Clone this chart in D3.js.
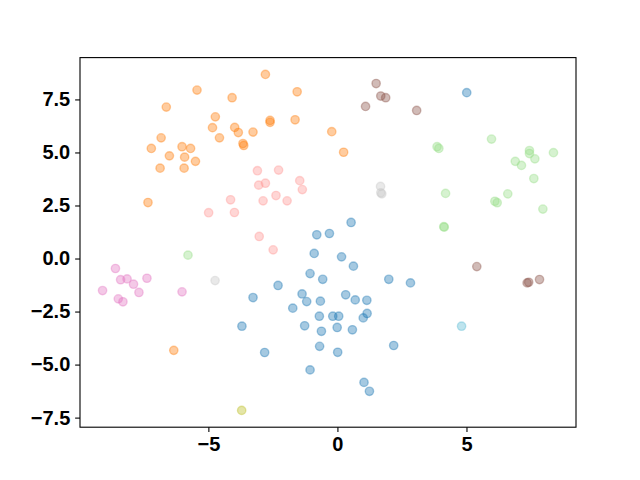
<!DOCTYPE html>
<html>
<head>
<meta charset="utf-8">
<script src="https://cdn.jsdelivr.net/npm/d3@7"></script>
<style>
  body { margin: 0; background: #fff; }
  .tick text { font-family: "Liberation Sans", Arial, sans-serif; font-weight: bold; font-size: 20px; fill: #000; }
</style>
</head>
<body>
<div id="chart"></div>
<script>
var width = 640,
    height = 480;

var margin = {left: 80, top: 57.6, right: 64, bottom: 52.8};

// cluster names / colours
var groups = ["blue", "orange", "green", "pink", "brown", "magenta", "gray", "olive", "cyan"];
var groupColors = ["#1f77b4", "#ff7f0e", "#98df8a", "#ff9896", "#8c564b", "#e377c2", "#c7c7c7", "#bcbd22", "#5cbcd4"];

var xTicks = [-5, 0, 5];
var yTicks = [-7.5, -5.0, -2.5, 0.0, 2.5, 5.0, 7.5];

// points, [x, y]
var bluePts = [[5.01,7.82],[0.53,1.70],[-0.80,1.12],[-0.31,1.18],[-0.90,0.24],[0.16,0.08],[0.62,-0.36],
  [-1.06,-0.71],[-0.57,-0.98],[1.99,-0.98],[2.83,-1.15],[-2.30,-1.27],[-3.27,-1.84],[-1.37,-1.67],
  [-1.19,-2.03],[-0.66,-2.01],[0.32,-1.71],[0.69,-1.95],[1.14,-1.97],[-1.73,-2.34],[-0.70,-2.72],
  [-0.18,-2.72],[0.05,-2.72],[1.15,-2.59],[1.00,-2.80],[-3.70,-3.19],[-1.27,-3.17],[-0.62,-3.43],
  [-0.01,-3.25],[0.58,-3.36],[2.18,-4.10],[-2.82,-4.43],[-0.69,-4.14],[0.01,-4.42],[-1.06,-5.25],
  [1.03,-5.84],[1.24,-6.26]];
var orangePts = [[-5.44,7.94],[-4.08,7.58],[-6.63,7.14],[-4.73,6.68],[-4.84,6.17],[-3.98,6.18],[-3.84,5.94],
  [-6.83,5.69],[-4.57,5.69],[-3.66,5.42],[-3.63,5.33],[-7.21,5.19],[-6.02,5.27],[-5.69,5.19],
  [-6.51,4.84],[-5.92,4.78],[-5.50,4.58],[-6.87,4.26],[-5.94,4.26],[-3.27,5.96],[-2.79,8.68],
  [-1.56,7.86],[-2.61,6.51],[-2.61,6.42],[-1.64,6.54],[-0.22,5.98],[0.24,5.01],[-7.34,2.64],[-6.34,-4.33]];
var greenPts = [[5.97,5.63],[3.86,5.27],[3.93,5.19],[7.44,5.09],[7.44,4.95],[8.37,4.99],[6.89,4.58],
  [7.13,4.39],[7.65,4.70],[7.61,3.77],[4.19,3.07],[6.10,2.70],[6.19,2.63],[6.60,3.05],[7.96,2.33],
  [4.14,1.48],[4.12,1.50],[-5.79,0.16]];
var pinkPts = [[-3.10,4.14],[-2.28,4.17],[-1.46,3.67],[-3.05,3.46],[-2.79,3.55],[-1.36,3.25],[-2.88,2.72],
  [-2.38,2.97],[-1.95,2.72],[-3.03,1.04],[-2.49,0.41],[-4.14,2.77],[-4.99,2.16],[-3.99,2.17]];
var brownPts = [[1.50,8.25],[1.68,7.66],[1.87,7.58],[1.09,7.17],[3.07,6.98],[5.40,-0.38],[7.35,-1.15],
  [7.41,-1.12],[7.83,-0.99]];
var magentaPts = [[-8.60,-0.47],[-8.40,-1.00],[-8.15,-0.96],[-7.90,-1.21],[-7.38,-0.93],[-9.10,-1.51],
  [-8.49,-1.90],[-8.31,-2.04],[-7.69,-1.60],[-6.02,-1.57]];
var grayPts = [[-4.74,-1.04],[1.67,3.40],[1.68,3.10],[1.72,3.05]];
var olivePts = [[-3.71,-7.16]];
var cyanPts = [[4.81,-3.19]];

var allSeries = [bluePts, orangePts, greenPts, pinkPts, brownPts, magentaPts, grayPts, olivePts, cyanPts];

var points = [];
allSeries.forEach(function(s, i) {
  s.forEach(function(p) { points.push({x: p[0], y: p[1], g: i}); });
});

var svg = d3.select("#chart")
    .append("svg")
    .attr("width", width)
    .attr("height", height);

var iw = width - margin.left - margin.right,
    ih = height - margin.top - margin.bottom;

// matplotlib style 5% padding
var xExt = d3.extent(points, function(d) { return d.x; }),
    yExt = d3.extent(points, function(d) { return d.y; });
var xPad = (xExt[1] - xExt[0]) * 0.05,
    yPad = (yExt[1] - yExt[0]) * 0.05;

var x = d3.scaleLinear()
    .domain([xExt[0] - xPad, xExt[1] + xPad])
    .range([margin.left, margin.left + iw]);

var y = d3.scaleLinear()
    .domain([yExt[0] - yPad, yExt[1] + yPad])
    .range([margin.top + ih, margin.top]);

var fmt = function(d) { return d3.format(".1f")(d).replace("-", "\u2212"); };

svg.append("g")
    .selectAll("circle")
    .data(points)
    .enter()
    .append("circle")
    .attr("cx", function(d) { return x(d.x); })
    .attr("cy", function(d) { return y(d.y); })
    .attr("r", 4.17)
    .attr("fill", function(d) { return groupColors[d.g]; })
    .attr("fill-opacity", 0.4)
    .attr("stroke", function(d) { return groupColors[d.g]; })
    .attr("stroke-opacity", 0.4)
    .attr("stroke-width", 1.39);

var xAxis = svg.append("g")
    .attr("transform", "translate(0," + (margin.top + ih) + ")")
    .call(d3.axisBottom(x).tickValues(xTicks).tickSize(4.86).tickPadding(4.9)
      .tickFormat(function(d) { return String(d).replace("-", "\u2212"); }));

var yAxis = svg.append("g")
    .attr("transform", "translate(" + margin.left + ",0)")
    .call(d3.axisLeft(y).tickValues(yTicks).tickSize(4.86).tickPadding(4.9).tickFormat(fmt));

[xAxis, yAxis].forEach(function(a) {
  a.select(".domain").remove();
  a.selectAll(".tick line").attr("stroke", "#000").attr("stroke-width", 1.1);
});

svg.append("rect")
    .attr("x", margin.left)
    .attr("y", margin.top)
    .attr("width", iw)
    .attr("height", ih)
    .attr("fill", "none")
    .attr("stroke", "#000")
    .attr("stroke-width", 1.1);
</script>
</body>
</html>
